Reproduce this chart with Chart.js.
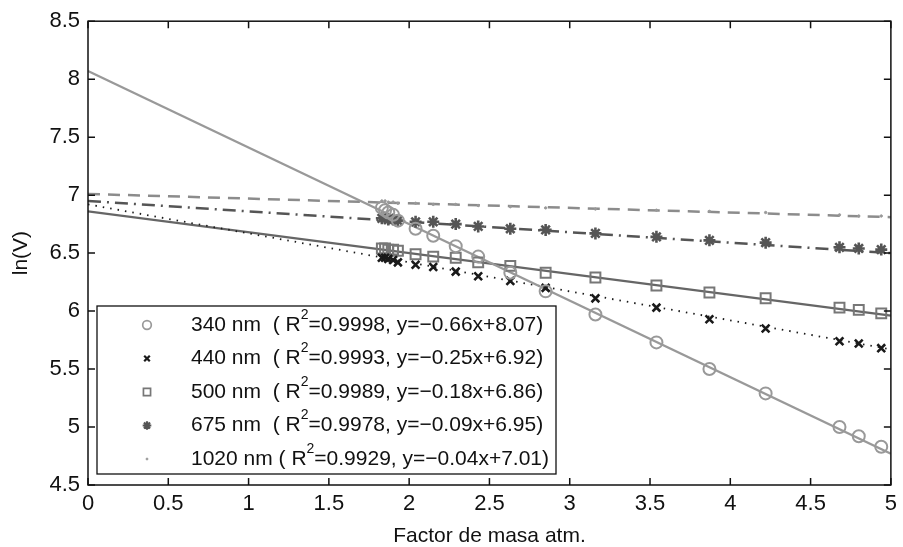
<!DOCTYPE html>
<html>
<head>
<meta charset="utf-8">
<script src="https://cdn.jsdelivr.net/npm/chart.js@4"></script>
<style>
  html, body { margin: 0; padding: 0; background: #fff; }
  #wrap { width: 903px; height: 547px; }
</style>
</head>
<body>
<div id="wrap"><canvas id="chart" width="903" height="547"></canvas></div>
<script>
// air mass factor of each measurement
const airMass = [1.83, 1.85, 1.87, 1.90, 1.93, 2.04, 2.15, 2.29, 2.43, 2.63, 2.85, 3.16, 3.54, 3.87, 4.22, 4.68, 4.80, 4.94];

// ln(V) for each wavelength
const ln340 = [6.89, 6.87, 6.85, 6.83, 6.78, 6.71, 6.65, 6.56, 6.47, 6.33, 6.17, 5.97, 5.73, 5.50, 5.29, 5.00, 4.92, 4.83];
const ln440 = [6.46, 6.46, 6.45, 6.44, 6.42, 6.40, 6.38, 6.34, 6.30, 6.26, 6.20, 6.11, 6.03, 5.93, 5.85, 5.74, 5.72, 5.68];
const ln500 = [6.54, 6.54, 6.53, 6.53, 6.52, 6.49, 6.47, 6.46, 6.42, 6.39, 6.33, 6.29, 6.22, 6.16, 6.11, 6.03, 6.01, 5.98];
const ln675 = [6.80, 6.80, 6.79, 6.79, 6.78, 6.77, 6.77, 6.75, 6.73, 6.71, 6.70, 6.67, 6.64, 6.61, 6.59, 6.55, 6.54, 6.53];
const ln1020 = [6.95, 6.95, 6.94, 6.94, 6.93, 6.93, 6.92, 6.92, 6.91, 6.90, 6.89, 6.88, 6.87, 6.86, 6.85, 6.83, 6.82, 6.82];

// fitted lines (from the legend)
const fitSlope = [-0.66, -0.25, -0.18, -0.09, -0.04];
const fitIntercept = [8.07, 6.92, 6.86, 6.95, 7.01];

const legendLead = ['340 nm  ( R', '440 nm  ( R', '500 nm  ( R', '675 nm  ( R', '1020 nm ( R'];
const legendTail = ['=0.9998, y=\u22120.66x+8.07)', '=0.9993, y=\u22120.25x+6.92)', '=0.9989, y=\u22120.18x+6.86)', '=0.9978, y=\u22120.09x+6.95)', '=0.9929, y=\u22120.04x+7.01)'];

const xTicks = [0, 0.5, 1, 1.5, 2, 2.5, 3, 3.5, 4, 4.5, 5];
const yTicks = [4.5, 5, 5.5, 6, 6.5, 7, 7.5, 8, 8.5];

const FONT = '"Liberation Sans", Arial, Helvetica, sans-serif';
const INK = '#111111';

const seriesValues = [ln340, ln440, ln500, ln675, ln1020];
const styles = [
  { color: '#999999', point: 'circle', radius: 6, bw: 2, fill: false, line: '#999999', dash: [], lw: 2.2 },
  { color: '#1a1a1a', point: 'crossRot', radius: 5.5, bw: 2.6, fill: false, line: '#1a1a1a', dash: [1.5, 6], lw: 1.8 },
  { color: '#777777', point: 'rect', radius: 7, bw: 2, fill: false, line: '#666666', dash: [], lw: 2.2 },
  { color: '#555555', point: 'star', radius: 6, bw: 2.6, fill: false, line: '#555555', dash: [13, 6, 2, 6], lw: 2.5 },
  { color: '#999999', point: 'circle', radius: 1.2, bw: 1, fill: true, line: '#8c8c8c', dash: [12, 8], lw: 2.5 }
];

const datasets = [];
seriesValues.forEach((vals, i) => {
  const s = styles[i];
  datasets.push({
    label: legendLead[i],
    data: airMass.map((x, k) => ({ x: x, y: vals[k] })),
    showLine: false,
    pointStyle: s.point,
    pointRadius: s.radius,
    pointBorderWidth: s.bw,
    pointBorderColor: s.color,
    pointBackgroundColor: s.fill ? s.color : 'rgba(0,0,0,0)',
    order: 1
  });
});
fitSlope.forEach((m, i) => {
  const s = styles[i];
  datasets.push({
    label: 'fit ' + legendLead[i],
    data: [{ x: 0, y: fitIntercept[i] }, { x: 5, y: fitIntercept[i] + 5 * m }],
    showLine: true,
    pointRadius: 0,
    borderColor: s.line,
    borderWidth: s.lw,
    borderDash: s.dash,
    order: 2
  });
});

// box + inward ticks, like the original figure
const frame = {
  id: 'frame',
  afterDatasetsDraw(chart) {
    const { ctx, chartArea: a, scales } = chart;
    ctx.save();
    ctx.strokeStyle = INK;
    ctx.lineWidth = 1.5;
    ctx.strokeRect(a.left, a.top, a.right - a.left, a.bottom - a.top);
    const len = 7;
    ctx.beginPath();
    xTicks.forEach(v => {
      const px = scales.x.getPixelForValue(v);
      ctx.moveTo(px, a.bottom); ctx.lineTo(px, a.bottom - len);
      ctx.moveTo(px, a.top); ctx.lineTo(px, a.top + len);
    });
    yTicks.forEach(v => {
      const py = scales.y.getPixelForValue(v);
      ctx.moveTo(a.left, py); ctx.lineTo(a.left + len, py);
      ctx.moveTo(a.right, py); ctx.lineTo(a.right - len, py);
    });
    ctx.stroke();
    ctx.restore();
  }
};

// legend box with superscript R^2
const legendBox = {
  id: 'legendBox',
  afterDraw(chart) {
    const { ctx } = chart;
    const box = { left: 97, top: 306, right: 556, bottom: 474 };
    ctx.save();
    ctx.fillStyle = '#fff';
    ctx.fillRect(box.left, box.top, box.right - box.left, box.bottom - box.top);
    ctx.strokeStyle = INK;
    ctx.lineWidth = 1.3;
    ctx.strokeRect(box.left, box.top, box.right - box.left, box.bottom - box.top);
    const rowH = 33.5;
    legendLead.forEach((lead, i) => {
      const y = 325 + i * rowH;
      const s = styles[i];
      ctx.strokeStyle = s.color;
      ctx.fillStyle = s.fill ? s.color : 'rgba(0,0,0,0)';
      ctx.lineWidth = s.bw * 0.85;
      ctx.setLineDash([]);
      Chart.helpers.drawPoint(ctx, {
        pointStyle: s.point,
        radius: i === 4 ? 1 : s.radius * 0.72,
        borderWidth: s.bw * 0.85,
        rotation: 0
      }, 147, y);
      ctx.fillStyle = INK;
      ctx.textBaseline = 'middle';
      ctx.textAlign = 'left';
      ctx.font = '21px ' + FONT;
      let x = 191;
      ctx.fillText(lead, x, y);
      x += ctx.measureText(lead).width;
      ctx.font = '14px ' + FONT;
      ctx.fillText('2', x, y - 10);
      x += ctx.measureText('2').width;
      ctx.font = '21px ' + FONT;
      ctx.fillText(legendTail[i], x, y);
    });
    ctx.restore();
  }
};

const tickText = v => String(Number(v.toFixed(1)));

new Chart(document.getElementById('chart'), {
  type: 'scatter',
  data: { datasets: datasets },
  options: {
    responsive: false,
    animation: false,
    layout: { padding: { top: 21, right: 10, left: 0, bottom: 0 } },
    plugins: { legend: { display: false }, tooltip: { enabled: false } },
    scales: {
      x: {
        type: 'linear',
        min: 0,
        max: 5,
        afterBuildTicks: s => { s.ticks = xTicks.map(v => ({ value: v })); },
        afterFit: s => { s.height = 62; },
        grid: { display: false, drawTicks: false },
        border: { display: false },
        ticks: { color: INK, font: { family: FONT, size: 22 }, padding: 6, maxRotation: 0, callback: tickText },
        title: { display: true, text: 'Factor de masa atm.', color: INK, font: { family: FONT, size: 21, lineHeight: 1 }, padding: { top: 0, bottom: 0 } }
      },
      y: {
        type: 'linear',
        min: 4.5,
        max: 8.5,
        afterBuildTicks: s => { s.ticks = yTicks.map(v => ({ value: v })); },
        afterFit: s => { s.width = 88; },
        grid: { display: false, drawTicks: false },
        border: { display: false },
        ticks: { color: INK, font: { family: FONT, size: 22 }, padding: 8, callback: tickText },
        title: { display: true, text: 'ln(V)', color: INK, font: { family: FONT, size: 21 }, padding: { top: 9, bottom: 0 } }
      }
    }
  },
  plugins: [frame, legendBox]
});
</script>
</body>
</html>
